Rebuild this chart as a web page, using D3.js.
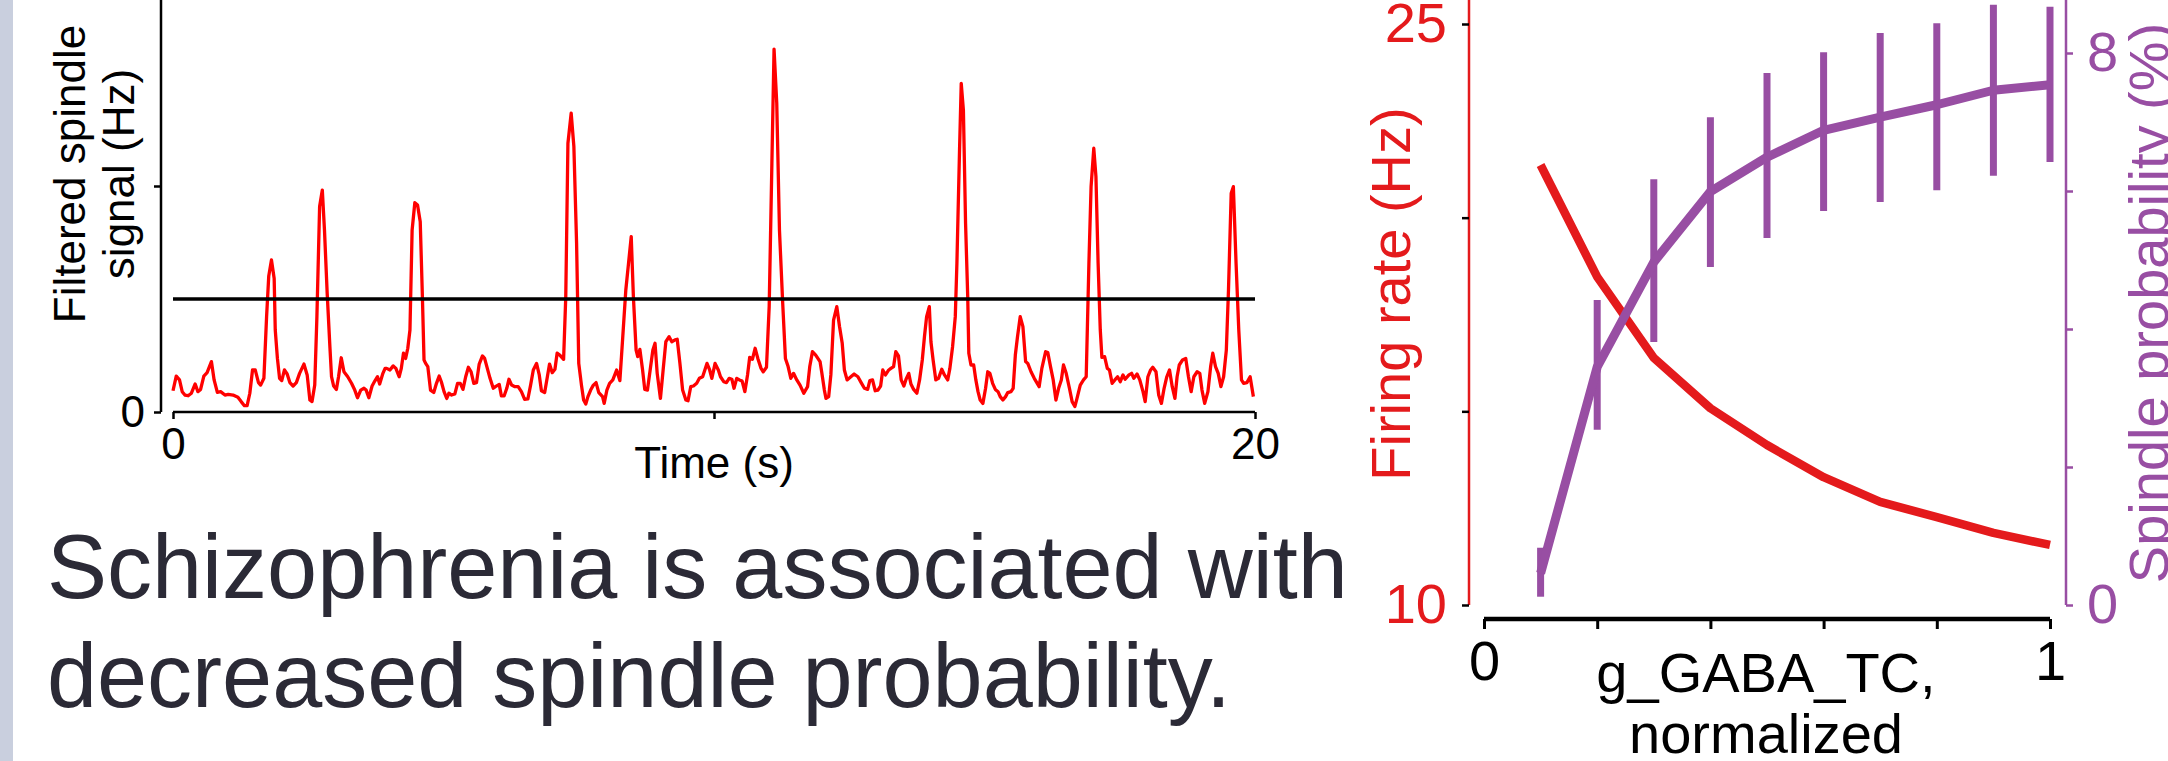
<!DOCTYPE html>
<html>
<head>
<meta charset="utf-8">
<script src="https://cdn.jsdelivr.net/npm/d3@7"></script>
<style>
html, body { margin: 0; padding: 0; background: #fff; }
svg { display: block; }
</style>
</head>
<body>
<svg id="chart" width="2168" height="761"></svg>
<script>
// ---- data: filtered spindle signal, [time (s), value]
var spindleTrace = [
	[0,0.94],[0.06,1.59],[0.12,1.42],[0.17,0.90],[0.22,0.75],[0.28,0.72],[0.34,0.83],[0.41,1.24],[0.46,0.90],[0.51,1.00],
	[0.57,1.59],[0.63,1.74],[0.71,2.23],[0.76,1.42],[0.82,0.87],[0.88,0.90],[0.96,0.75],[1.02,0.78],[1.11,0.75],[1.20,0.65],
	[1.26,0.46],[1.32,0.28],[1.37,0.28],[1.42,0.83],[1.47,1.86],[1.52,1.86],[1.58,1.30],[1.62,1.19],[1.68,1.49],[1.73,4.22],
	[1.77,6.02],[1.82,6.73],[1.87,5.91],[1.89,3.63],[1.93,2.37],[1.97,1.49],[2.01,1.39],[2.06,1.86],[2.11,1.68],[2.16,1.30],
	[2.22,1.15],[2.28,1.30],[2.34,1.71],[2.42,2.12],[2.48,1.64],[2.53,0.53],[2.57,0.46],[2.62,1.19],[2.66,4.22],[2.71,9.09],
	[2.76,9.82],[2.80,8.05],[2.85,5.25],[2.90,2.89],[2.93,1.56],[2.97,1.15],[3.02,1.00],[3.06,1.56],[3.11,2.40],[3.16,1.78],
	[3.23,1.56],[3.30,1.27],[3.36,0.97],[3.41,0.63],[3.47,0.97],[3.53,1.05],[3.57,0.97],[3.62,0.63],[3.68,1.15],[3.73,1.37],
	[3.78,1.56],[3.82,1.24],[3.88,1.71],[3.92,1.93],
	[3.95,1.93],[4.01,1.86],[4.07,2.04],[4.12,1.93],[4.18,1.56],[4.22,1.93],[4.26,2.60],[4.30,2.37],[4.34,2.82],[4.38,3.63],
	[4.42,8.05],[4.47,9.26],[4.52,9.16],[4.57,8.42],[4.61,5.10],[4.64,2.30],[4.67,2.15],[4.71,2.01],[4.76,0.97],[4.82,0.86],
	[4.87,1.27],[4.92,1.59],[4.96,1.34],[5.01,0.90],[5.06,0.60],[5.10,0.83],[5.15,0.75],[5.21,0.80],[5.26,1.27],[5.31,1.27],
	[5.36,1.00],[5.41,1.56],[5.46,1.98],[5.51,1.78],[5.56,1.27],[5.61,1.30],[5.66,2.12],[5.72,2.48],[5.76,2.37],[5.81,1.93],
	[5.86,1.49],[5.92,1.05],[5.96,1.12],[6.03,1.22],[6.07,0.71],[6.12,0.71],[6.17,1.05],[6.21,1.45],[6.26,1.19],[6.32,1.12],
	[6.38,1.12],[6.44,0.90],[6.50,0.56],[6.56,0.58],[6.61,1.19],[6.66,1.86],[6.72,2.15],[6.77,1.64],[6.81,0.94],[6.87,0.86],
	[6.92,1.56],[6.96,2.12],[7.01,1.74],[7.06,1.89],[7.10,2.60],[7.15,2.52],[7.22,2.33],[7.26,5.10],[7.30,11.89],[7.36,13.22],
	[7.41,11.74],[7.46,7.46],[7.50,2.15],[7.55,1.19],[7.59,0.53],[7.63,0.35],[7.67,0.68],[7.72,0.97],[7.77,1.19],[7.82,1.30],
	[7.87,0.86],[7.94,0.68],
	[7.97,0.38],[8.02,0.97],[8.07,1.27],[8.13,1.42],[8.20,1.86],[8.26,1.39],[8.31,3.19],[8.37,5.40],[8.42,6.58],[8.47,7.76],
	[8.51,5.10],[8.56,2.74],[8.59,2.45],[8.63,2.77],[8.68,1.86],[8.72,1.00],[8.77,0.97],[8.82,1.86],[8.87,2.74],[8.91,3.04],
	[8.95,1.71],[9.01,0.60],[9.06,1.86],[9.11,3.11],[9.17,3.33],[9.22,3.11],[9.28,3.19],[9.32,3.22],[9.37,2.15],[9.42,0.97],
	[9.48,0.53],[9.52,0.50],[9.57,1.12],[9.62,1.15],[9.68,1.27],[9.73,1.49],[9.79,1.56],[9.87,2.15],[9.92,1.86],[9.96,1.49],
	[10.02,2.15],[10.08,1.86],[10.12,1.56],[10.18,1.34],[10.23,1.30],[10.28,1.49],[10.33,1.45],[10.37,1.05],[10.42,1.49],[10.47,1.42],
	[10.52,1.37],[10.57,0.90],[10.62,1.64],[10.66,2.42],[10.71,2.33],[10.76,2.82],[10.81,2.37],[10.87,1.93],[10.91,1.78],[10.97,1.98],
	[11.02,4.66],[11.07,11.00],[11.11,16.06],[11.16,13.66],[11.21,8.05],[11.27,4.81],[11.32,2.37],[11.37,2.01],[11.42,1.49],[11.47,1.71],
	[11.53,1.42],[11.59,1.19],[11.66,0.83],[11.73,1.12],[11.77,2.01],[11.82,2.67],[11.88,2.52],[11.96,2.23],
	[11.99,1.78],[12.04,0.97],[12.07,0.60],[12.12,0.68],[12.16,1.64],[12.21,4.07],[12.27,4.66],[12.32,3.78],[12.37,3.04],[12.41,1.86],
	[12.46,1.42],[12.53,1.56],[12.59,1.68],[12.66,1.56],[12.72,1.30],[12.78,1.05],[12.84,1.00],[12.88,1.39],[12.93,1.42],[12.98,0.94],
	[13.03,0.97],[13.08,1.15],[13.12,1.86],[13.17,1.64],[13.23,1.86],[13.27,1.93],[13.32,2.01],[13.36,2.67],[13.41,2.48],[13.46,1.42],
	[13.51,1.15],[13.55,1.45],[13.60,1.71],[13.64,1.24],[13.69,1.00],[13.75,0.83],[13.80,1.42],[13.85,2.30],[13.89,3.33],[13.93,4.22],
	[13.98,4.66],[14.01,3.11],[14.05,2.30],[14.10,1.42],[14.15,1.49],[14.21,1.89],[14.26,1.64],[14.32,1.42],[14.36,1.93],[14.41,2.89],
	[14.46,4.22],[14.49,6.58],[14.54,11.74],[14.57,14.54],[14.61,13.36],[14.65,8.35],[14.69,5.10],[14.71,2.60],[14.75,2.08],[14.80,2.08],
	[14.84,1.42],[14.88,0.90],[14.92,0.53],[14.97,0.38],[15.02,1.05],[15.06,1.78],[15.10,1.71],[15.15,1.27],[15.20,1.00],[15.25,0.90],
	[15.29,0.68],[15.34,0.53],[15.39,0.68],[15.43,0.86],[15.49,0.90],[15.53,1.05],[15.57,2.52],[15.61,3.33],[15.66,4.22],[15.71,3.78],
	[15.76,2.23],[15.80,2.15],[15.86,1.78],[15.92,1.49],
	[16.01,1.12],[16.06,1.93],[16.13,2.67],[16.17,2.63],[16.22,2.01],[16.27,1.42],[16.32,0.53],[16.37,1.05],[16.42,1.42],[16.46,2.08],
	[16.51,1.71],[16.57,1.05],[16.62,0.46],[16.67,0.24],[16.71,0.60],[16.77,1.19],[16.83,1.42],[16.88,1.56],[16.93,6.58],[16.97,9.97],
	[17.02,11.67],[17.06,10.41],[17.10,6.58],[17.14,3.63],[17.17,2.42],[17.22,2.45],[17.27,1.93],[17.31,1.86],[17.36,1.27],[17.41,1.42],
	[17.46,1.56],[17.51,1.34],[17.56,1.64],[17.60,1.45],[17.67,1.64],[17.72,1.71],[17.76,1.49],[17.82,1.68],[17.87,1.42],[17.93,0.90],
	[17.97,0.46],[18.02,1.56],[18.07,1.86],[18.11,1.98],[18.17,1.78],[18.22,0.75],[18.27,0.38],[18.32,1.05],[18.37,1.56],[18.42,1.86],
	[18.47,1.12],[18.52,0.60],[18.56,1.56],[18.60,2.08],[18.66,2.30],[18.72,2.37],[18.77,1.56],[18.82,0.90],[18.87,1.56],[18.93,1.78],
	[18.98,1.71],[19.02,0.97],[19.07,0.38],[19.13,0.90],[19.18,2.01],[19.22,2.60],[19.27,2.01],[19.32,1.71],[19.37,1.12],[19.42,1.56],
	[19.47,2.74],[19.51,5.40],[19.56,9.68],[19.60,9.97],[19.65,6.58],[19.70,3.63],[19.75,1.42],[19.79,1.27],[19.85,1.30],[19.91,1.56],
	[19.97,0.68]
];
var threshold = 5;
var timeTicks = [0, 10, 20];
var timeTickLabels = ['0', '', '20'];
var sigTicks = [0, 10];
var sigTickLabels = ['0', ''];

// ---- data: firing rate / spindle probability vs g_GABA_TC
var gaba = [0.1, 0.2, 0.3, 0.4, 0.5, 0.6, 0.7, 0.8, 0.9, 1.0];
var firingRate = [21.36, 18.47, 16.38, 15.08, 14.13, 13.30, 12.66, 12.27, 11.86, 11.55];
var spindleProb = [0.46, 3.45, 4.97, 5.99, 6.49, 6.88, 7.07, 7.25, 7.46, 7.54];
var spindleLow = [0.12, 2.54, 3.81, 4.90, 5.32, 5.71, 5.84, 6.01, 6.22, 6.42];
var spindleHigh = [0.83, 4.42, 6.17, 7.07, 7.71, 8.01, 8.29, 8.43, 8.70, 8.67];
var gabaTicks = [0, 0.2, 0.4, 0.6, 0.8, 1];
var gabaTickLabels = ['0', '', '', '', '', '1'];
var rateTicks = [10, 15, 20, 25];
var rateTickLabels = ['10', '', '', '25'];
var probTicks = [0, 2, 4, 6, 8];
var probTickLabels = ['0', '', '', '', '8'];

var FONT = '"Liberation Sans", Arial, Helvetica, sans-serif';
var RED = '#e41a1c', PURPLE = '#984ea3', SIG = '#ff0000', INK = '#2b2a36';

var svg = d3.select('#chart');

// slide edge stripe
svg.append('rect')
	.attr('x', 0).attr('y', 0)
	.attr('width', 13).attr('height', 761)
	.attr('fill', '#c9cfde');

function style_axis(g, size, color, width, tickColor){
	g.attr('font-family', FONT).attr('font-size', size);
	g.select('.domain').remove();
	g.selectAll('.tick line').attr('stroke', tickColor || color).attr('stroke-width', width);
	g.selectAll('.tick text').attr('fill', color);
}

// ================= left: spindle trace
var xT = d3.scaleLinear().domain([0, 20]).range([173, 1255]);
var yS = d3.scaleLinear().domain([0, 10]).range([412, 186]);

var gL = svg.append('g');

gL.append('line')
	.attr('x1', 161).attr('x2', 161)
	.attr('y1', yS(0)).attr('y2', yS(yS.invert(0)))
	.attr('stroke', '#000').attr('stroke-width', 2.5);
gL.append('g')
	.attr('transform', 'translate(161,0)')
	.call(d3.axisLeft(yS).tickValues(sigTicks).tickSize(7).tickSizeOuter(0).tickPadding(9)
		.tickFormat(function(d, i){ return sigTickLabels[i]; }))
	.call(style_axis, 44, '#000', 2.5);

gL.append('line')
	.attr('x1', xT(0)).attr('x2', xT(20))
	.attr('y1', 412).attr('y2', 412)
	.attr('stroke', '#000').attr('stroke-width', 2.5);
gL.append('g')
	.attr('transform', 'translate(0,412)')
	.call(d3.axisBottom(xT).tickValues(timeTicks).tickSize(7).tickSizeOuter(0).tickPadding(9)
		.tickFormat(function(d, i){ return timeTickLabels[i]; }))
	.call(style_axis, 44, '#000', 2.5);

gL.append('path')
	.datum(spindleTrace)
	.attr('fill', 'none')
	.attr('stroke', SIG)
	.attr('stroke-width', 3.3)
	.attr('stroke-linejoin', 'round')
	.attr('d', d3.line().x(function(d){ return xT(d[0]); }).y(function(d){ return yS(d[1]); }));

gL.append('line')
	.attr('x1', xT(0)).attr('x2', xT(20))
	.attr('y1', yS(threshold)).attr('y2', yS(threshold))
	.attr('stroke', '#000').attr('stroke-width', 3.5);

gL.append('text')
	.attr('x', 714).attr('y', 478)
	.attr('text-anchor', 'middle')
	.attr('font-family', FONT).attr('font-size', 44)
	.text('Time (s)');
gL.selectAll('.ylab')
	.data([['Filtered spindle', 85], ['signal (Hz)', 134]])
	.enter()
	.append('text')
	.attr('class', 'ylab')
	.attr('transform', function(d){ return 'translate(' + d[1] + ',174) rotate(-90)'; })
	.attr('text-anchor', 'middle')
	.attr('font-family', FONT).attr('font-size', 44)
	.text(function(d){ return d[0]; });

// ================= headline text
svg.selectAll('.headline')
	.data([['Schizophrenia is associated with', 598], ['decreased spindle probability.', 707]])
	.enter()
	.append('text')
	.attr('class', 'headline')
	.attr('x', 47).attr('y', function(d){ return d[1]; })
	.attr('font-family', FONT).attr('font-size', 90)
	.attr('fill', INK)
	.text(function(d){ return d[0]; });

// ================= right: firing rate and spindle probability
var xG = d3.scaleLinear().domain([0, 1]).range([1484, 2050]);
var yR = d3.scaleLinear().domain([10, 25]).range([605, 24]);
var yP = d3.scaleLinear().domain([0, 8]).range([605, 53]);

var gR = svg.append('g');

// firing rate axis (left, red)
gR.append('line')
	.attr('x1', 1469).attr('x2', 1469)
	.attr('y1', yR(10)).attr('y2', 0)
	.attr('stroke', RED).attr('stroke-width', 2.5);
gR.append('g')
	.attr('transform', 'translate(1469,0)')
	.call(d3.axisLeft(yR).tickValues(rateTicks).tickSize(7).tickSizeOuter(0).tickPadding(15)
		.tickFormat(function(d, i){ return rateTickLabels[i]; }))
	.call(style_axis, 56, RED, 2.5, '#000');

// spindle probability axis (right, purple)
gR.append('line')
	.attr('x1', 2066).attr('x2', 2066)
	.attr('y1', yP(0)).attr('y2', 0)
	.attr('stroke', PURPLE).attr('stroke-width', 2.5);
gR.append('g')
	.attr('transform', 'translate(2066,0)')
	.call(d3.axisRight(yP).tickValues(probTicks).tickSize(7).tickSizeOuter(0).tickPadding(14)
		.tickFormat(function(d, i){ return probTickLabels[i]; }))
	.call(style_axis, 56, PURPLE, 2.5);

// g_GABA_TC axis
gR.append('line')
	.attr('x1', xG(0)).attr('x2', xG(1))
	.attr('y1', 619).attr('y2', 619)
	.attr('stroke', '#000').attr('stroke-width', 4.5);
gR.append('g')
	.attr('transform', 'translate(0,619)')
	.call(d3.axisBottom(xG).tickValues(gabaTicks).tickSize(10).tickSizeOuter(0).tickPadding(11)
		.tickFormat(function(d, i){ return gabaTickLabels[i]; }))
	.call(style_axis, 56, '#000', 3);

// firing rate curve
gR.append('path')
	.datum(d3.zip(gaba, firingRate))
	.attr('fill', 'none')
	.attr('stroke', RED)
	.attr('stroke-width', 8.5)
	.attr('stroke-linejoin', 'round')
	.attr('d', d3.line().x(function(d){ return xG(d[0]); }).y(function(d){ return yR(d[1]); }));

// spindle probability error bars + curve
gR.selectAll('.ebar')
	.data(d3.zip(gaba, spindleLow, spindleHigh))
	.enter()
	.append('line')
	.attr('class', 'ebar')
	.attr('x1', function(d){ return xG(d[0]); })
	.attr('x2', function(d){ return xG(d[0]); })
	.attr('y1', function(d){ return yP(d[1]); })
	.attr('y2', function(d){ return yP(d[2]); })
	.attr('stroke', PURPLE)
	.attr('stroke-width', 7);
gR.append('path')
	.datum(d3.zip(gaba, spindleProb))
	.attr('fill', 'none')
	.attr('stroke', PURPLE)
	.attr('stroke-width', 9)
	.attr('stroke-linejoin', 'round')
	.attr('d', d3.line().x(function(d){ return xG(d[0]); }).y(function(d){ return yP(d[1]); }));

// axis titles
gR.append('text')
	.attr('transform', 'translate(1410,294) rotate(-90)')
	.attr('text-anchor', 'middle')
	.attr('font-family', FONT).attr('font-size', 56)
	.attr('fill', RED)
	.text('Firing rate (Hz)');
gR.append('text')
	.attr('transform', 'translate(2168,303) rotate(-90)')
	.attr('text-anchor', 'middle')
	.attr('font-family', FONT).attr('font-size', 56)
	.attr('fill', PURPLE)
	.text('Spindle probability (%)');
gR.selectAll('.xlab')
	.data([['g_GABA_TC,', 692], ['normalized', 753]])
	.enter()
	.append('text')
	.attr('class', 'xlab')
	.attr('x', 1766).attr('y', function(d){ return d[1]; })
	.attr('text-anchor', 'middle')
	.attr('font-family', FONT).attr('font-size', 56)
	.text(function(d){ return d[0]; });
</script>
</body>
</html>
